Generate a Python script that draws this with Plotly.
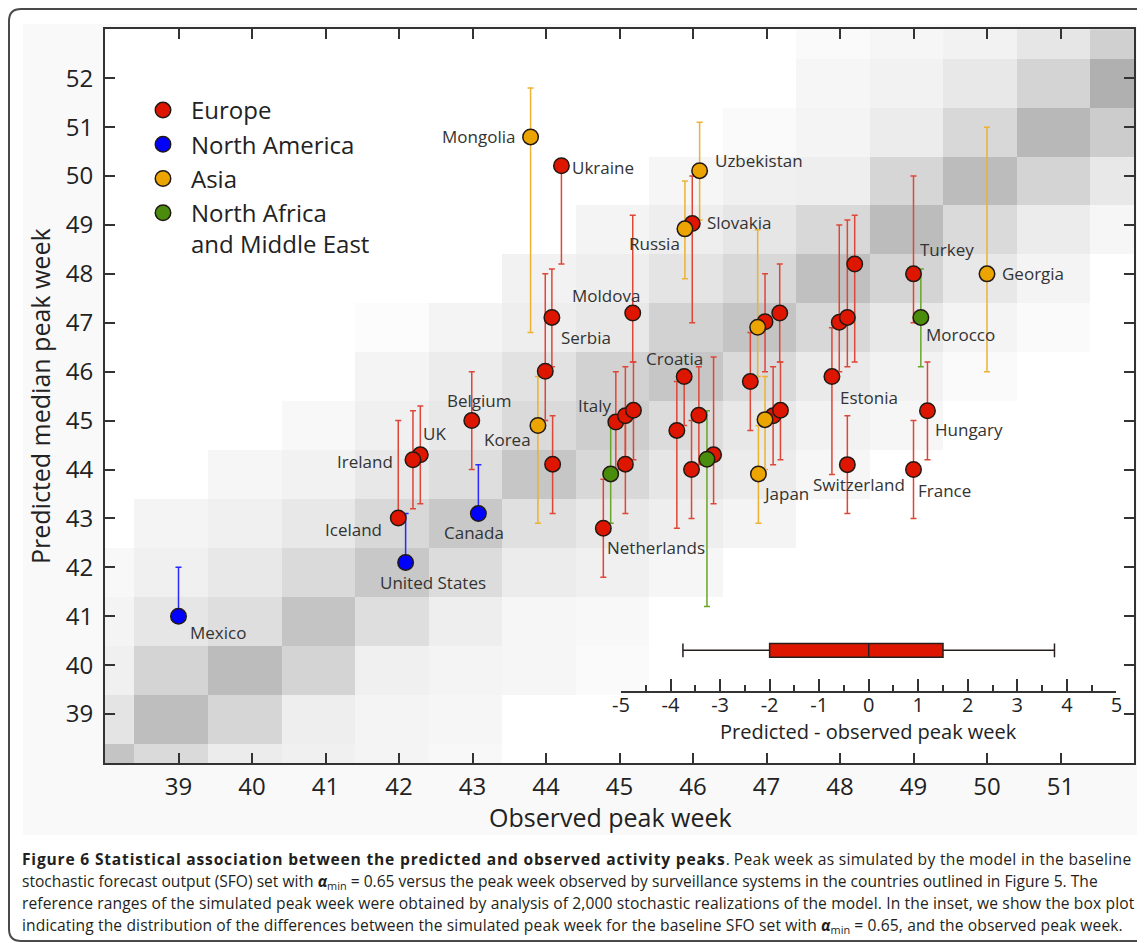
import plotly.graph_objects as go

# the page body adds an 8 px offset; the figure is sized so that page = 1145 x 943
OFF = 8
W, H = 1145 - OFF, 943 - OFF

# ---------------- background: simulated vs observed density (gray levels, 255 = white) -------------
OBS_BINS = [37.9, 38.9, 39.9, 40.9, 41.9, 42.9, 43.9, 44.9, 45.9, 46.9, 47.9, 48.9, 49.9, 50.9, 51.9]
PRED_BINS = [37.9, 38.9, 39.9, 40.9, 41.9, 42.9, 43.9, 44.9, 45.9, 46.9, 47.9, 48.9, 49.9, 50.9, 51.9, 52.9]
GRAY = [
    [196, 218, 236, 240, 244, 248, 255, 255, 255, 255, 255, 255, 255, 255, 255],
    [228, 190, 214, 238, 244, 246, 255, 255, 255, 255, 255, 255, 255, 255, 255],
    [240, 212, 188, 212, 240, 244, 246, 250, 255, 255, 255, 255, 255, 255, 255],
    [244, 230, 222, 196, 222, 238, 246, 248, 255, 255, 255, 255, 255, 255, 255],
    [248, 240, 232, 218, 200, 220, 236, 240, 246, 255, 255, 255, 255, 255, 255],
    [255, 244, 240, 232, 216, 200, 224, 232, 238, 244, 255, 255, 255, 255, 255],
    [255, 255, 246, 242, 232, 222, 198, 216, 230, 236, 246, 255, 255, 255, 255],
    [255, 255, 255, 248, 240, 232, 218, 206, 220, 232, 242, 246, 255, 255, 255],
    [255, 255, 255, 255, 244, 236, 226, 210, 198, 218, 234, 242, 250, 255, 255],
    [255, 255, 255, 255, 252, 244, 238, 232, 210, 196, 216, 232, 244, 250, 255],
    [255, 255, 255, 255, 255, 255, 242, 238, 228, 216, 192, 212, 232, 244, 255],
    [255, 255, 255, 255, 255, 255, 255, 244, 238, 230, 216, 188, 218, 236, 246],
    [255, 255, 255, 255, 255, 255, 255, 255, 246, 240, 238, 214, 188, 212, 232],
    [255, 255, 255, 255, 255, 255, 255, 255, 255, 250, 244, 236, 216, 184, 204],
    [255, 255, 255, 255, 255, 255, 255, 255, 255, 255, 246, 242, 232, 212, 176],
    [255, 255, 255, 255, 255, 255, 255, 255, 255, 255, 250, 246, 242, 230, 208],
]

# ---------------- countries: observed week, predicted median week, reference range -------------
EU_NAMES = ["Ukraine", "Serbia", "", "", "Moldova", "Italy", "", "", "", "Netherlands",
            "Croatia", "", "", "", "", "Slovakia", "", "", "", "", "", "", "", "",
            "Estonia", "Turkey", "Hungary", "France", "Switzerland", "Belgium", "UK", "Ireland", "Iceland"]
EU_OBS = [44.21, 44.08, 43.99, 44.09, 45.18, 44.95, 45.08, 45.19, 45.08, 44.78,
          45.88, 45.78, 46.08, 45.98, 46.28, 45.99, 47.18, 46.98, 46.78, 47.09, 47.19, 48.20, 47.99, 48.10,
          47.89, 49.00, 49.19, 49.00, 48.10, 42.99, 42.29, 42.19, 41.99]
EU_PRED = [50.21, 47.11, 46.01, 44.11, 47.20, 44.97, 45.10, 45.21, 44.11, 42.80,
           45.90, 44.80, 45.11, 44.00, 44.30, 49.03, 47.20, 47.02, 45.80, 45.10, 45.21, 48.20, 47.01, 47.11,
           45.90, 48.00, 45.20, 44.00, 44.10, 45.00, 44.30, 44.20, 43.01]
EU_LOW = [48.2, 46.1, 45.0, 43.1, 46.2, 44.0, 44.1, 44.2, 43.1, 41.8,
          44.9, 42.8, 44.1, 43.0, 43.3, 47.0, 46.2, 46.0, 44.8, 44.1, 44.2, 46.2, 46.0, 46.1,
          43.9, 47.0, 44.2, 43.0, 43.1, 44.0, 43.3, 43.2, 43.0]
EU_HIGH = [50.2, 48.1, 48.0, 45.1, 49.2, 46.0, 46.1, 46.2, 45.1, 43.8,
           45.9, 45.8, 46.1, 45.0, 46.3, 50.0, 48.2, 48.0, 46.8, 46.1, 46.2, 49.2, 49.0, 49.1,
           46.9, 50.0, 46.2, 45.0, 45.1, 46.0, 45.3, 45.2, 45.0]

NA_NAMES = ["Mexico", "United States", "Canada"]
NA_OBS = [39.00, 42.09, 43.08]
NA_PRED = [41.00, 42.10, 43.10]
NA_LOW = [41.0, 42.1, 43.1]
NA_HIGH = [42.0, 43.1, 44.1]

AS_NAMES = ["Mongolia", "Korea", "Uzbekistan", "Russia", "", "", "Japan", "Georgia"]
AS_OBS = [43.79, 43.89, 46.09, 45.89, 46.88, 46.98, 46.89, 50.00]
AS_PRED = [50.80, 44.90, 50.11, 48.92, 46.91, 45.02, 43.91, 48.00]
AS_LOW = [46.8, 42.9, 49.1, 47.9, 45.9, 44.0, 42.9, 46.0]
AS_HIGH = [51.8, 45.9, 51.1, 49.9, 48.9, 45.9, 44.9, 51.0]

ME_NAMES = ["", "", "Morocco"]
ME_OBS = [44.88, 46.19, 49.10]
ME_PRED = [43.91, 44.21, 47.11]
ME_LOW = [42.9, 41.2, 46.1]
ME_HIGH = [44.9, 45.2, 48.1]

X_TICKS = [39, 40, 41, 42, 43, 44, 45, 46, 47, 48, 49, 50, 51]
Y_TICKS = [39, 40, 41, 42, 43, 44, 45, 46, 47, 48, 49, 50, 51, 52]

# ---------------- inset: predicted - observed peak week box plot -------------
DIFF_LOWER = [-3.75]
DIFF_Q1 = [-2.0]
DIFF_MEDIAN = [0.0]
DIFF_Q3 = [1.5]
DIFF_UPPER = [3.75]
DIFF_TICKS = [-5, -4, -3, -2, -1, 0, 1, 2, 3, 4, 5]
DIFF_TICK_TEXT = ["-5", "-4", "-3", "-2", "-1", "0", "1", "2", "3", "4", "5"]

CAPTION_LINES = [
    "<b><span style=\"letter-spacing:0.8px\">Figure 6 Statistical association between the predicted "
    "and observed activity peaks</span></b>. "
    "<span style=\"letter-spacing:0.3px\">Peak week as simulated by the model in the baseline</span>",
    "stochastic forecast output (SFO) set with <b><i>α</i></b><sub>min</sub> = 0.65 versus the peak week "
    "observed by surveillance systems in the countries outlined in Figure 5. The",
    "<span style=\"letter-spacing:0.12px\">reference ranges of the simulated peak week were obtained by "
    "analysis of 2,000 stochastic realizations of the model. In the inset, we show the box plot</span>",
    "<span style=\"letter-spacing:0.12px\">indicating the distribution of the differences between the "
    "simulated peak week for the baseline SFO set with </span><b><i>α</i></b><sub>min</sub>"
    "<span style=\"letter-spacing:0.12px\"> = 0.65, and the observed peak week.</span>",
]

# ---------------- styling -------------
FONT = "Open Sans"
GROUPS = [
    ("Europe", EU_NAMES, EU_OBS, EU_PRED, EU_LOW, EU_HIGH, "rgb(222,22,0)", "rgb(222,70,55)"),
    ("North America", NA_NAMES, NA_OBS, NA_PRED, NA_LOW, NA_HIGH, "rgb(0,0,255)", "rgb(40,40,255)"),
    ("Asia", AS_NAMES, AS_OBS, AS_PRED, AS_LOW, AS_HIGH, "rgb(236,165,0)", "rgb(236,178,50)"),
    ("North Africa<br>and Middle East", ME_NAMES, ME_OBS, ME_PRED, ME_LOW, ME_HIGH,
     "rgb(74,140,12)", "rgb(105,165,40)"),
]

LABEL_STYLE = {
    "Mongolia": ("right", -14, 0), "Ukraine": ("left", 9, -2), "Uzbekistan": ("left", 13, 10),
    "Slovakia": ("left", 13, 1), "Russia": ("right", -3, -15), "Turkey": ("left", 4, 24),
    "Georgia": ("left", 13, 0), "Morocco": ("left", 3, -17), "Moldova": ("center", -27, 18),
    "Serbia": ("left", 7, -20), "Croatia": ("center", -10, 18), "Estonia": ("left", 6, -21),
    "Belgium": ("center", 8, 20), "Korea": ("right", -5, -14), "Italy": ("right", -2, 17),
    "UK": ("left", 1, 21), "Ireland": ("right", -18, -2), "Iceland": ("right", -14, -12),
    "Canada": ("center", -4, -19), "United States": ("left", -28, -20), "Mexico": ("left", 9, -16),
    "Netherlands": ("left", 2, -19), "Japan": ("left", 3, -20), "Switzerland": ("center", 12, -20),
    "France": ("left", 2, -21), "Hungary": ("left", 6, -19),
}


def px_x(px):
    return (px - OFF) / W


def px_y(py):
    return 1 - (py - OFF) / H


fig = go.Figure()

# density background
fig.add_trace(go.Heatmap(
    x=OBS_BINS, y=PRED_BINS, z=[[255 - g for g in row] for row in GRAY],
    zmin=0, zmax=100, colorscale=[[0, "rgb(255,255,255)"], [1, "rgb(155,155,155)"]],
    showscale=False, hoverinfo="skip", xaxis="x", yaxis="y",
))

# error bars first (under every marker)
for name, names, obs, pred, low, high, mcol, ecol in GROUPS:
    fig.add_trace(go.Scatter(
        x=obs, y=pred, mode="markers", marker=dict(size=2, opacity=0),
        error_y=dict(type="data", symmetric=False,
                     array=[max(h - p, 0) for h, p in zip(high, pred)],
                     arrayminus=[max(p - l, 0) for p, l in zip(pred, low)],
                     color=ecol, thickness=1.5, width=3),
        showlegend=False, hoverinfo="skip",
    ))

# markers
for name, names, obs, pred, low, high, mcol, ecol in GROUPS:
    fig.add_trace(go.Scatter(
        x=obs, y=pred, mode="markers", name=name, text=names,
        marker=dict(size=15.5, color=mcol, line=dict(color="rgb(35,25,20)", width=1.5)),
        hovertemplate="%{text}<br>observed %{x}<br>predicted %{y}<extra></extra>",
    ))

# inset box plot
fig.add_trace(go.Box(
    y=[0.5], q1=DIFF_Q1, median=DIFF_MEDIAN, q3=DIFF_Q3,
    lowerfence=DIFF_LOWER, upperfence=DIFF_UPPER, orientation="h",
    fillcolor="rgb(222,22,0)", line=dict(color="rgb(40,30,30)", width=1.5),
    width=0.17, whiskerwidth=1, showlegend=False, xaxis="x2", yaxis="y2",
    hoverinfo="skip",
))

annotations = []
for name, names, obs, pred, low, high, mcol, ecol in GROUPS:
    for n, ox, py in zip(names, obs, pred):
        if not n:
            continue
        anchor, dx, dy = LABEL_STYLE[n]
        annotations.append(dict(
            x=ox, y=py, xref="x", yref="y", text=n, showarrow=False,
            xanchor=anchor, yanchor="middle", xshift=dx, yshift=dy,
            font=dict(family=FONT, size=17, color="#333"),
        ))

# axis titles
annotations.append(dict(x=px_x(610), y=px_y(817), xref="paper", yref="paper", showarrow=False,
                        text="Observed peak week", xanchor="center", yanchor="middle",
                        font=dict(family=FONT, size=25, color="#222")))
annotations.append(dict(x=px_x(40), y=px_y(396), xref="paper", yref="paper", showarrow=False,
                        text="Predicted median peak week", textangle=-90, xanchor="center",
                        yanchor="middle", font=dict(family=FONT, size=25, color="#222")))
annotations.append(dict(x=px_x(868.7), y=px_y(731), xref="paper", yref="paper", showarrow=False,
                        text="Predicted - observed peak week", xanchor="center", yanchor="middle",
                        font=dict(family=FONT, size=20, color="#222")))

# caption
for i, line in enumerate(CAPTION_LINES):
    annotations.append(dict(x=px_x(20), y=px_y(859 + 22 * i), xref="paper", yref="paper",
                            showarrow=False, text=line, xanchor="left", yanchor="middle",
                            font=dict(family=FONT, size=15.6, color="#231f20")))

shapes = [
    dict(type="rect", xref="paper", yref="paper", x0=px_x(23), x1=px_x(1150), y0=px_y(835),
         y1=px_y(24), fillcolor="#f9f9f9", line=dict(width=0), layer="below"),
    dict(type="path", xref="paper", yref="paper", layer="above",
         path=("M {a},{b} L {c},{b} Q {d},{b} {d},{e} L {d},{f} Q {d},{g} {c},{g} L {a},{g}").format(
             a=px_x(1170), b=px_y(941), c=px_x(21), d=px_x(9), e=px_y(929), f=px_y(21), g=px_y(9)),
         line=dict(color="#4a4a4a", width=2)),
]

axis_common = dict(showgrid=False, zeroline=False, showline=True, linecolor="#333", linewidth=2,
                   ticks="inside", ticklen=10, tickwidth=1.5, tickcolor="#333", mirror="ticks",
                   tickfont=dict(family=FONT, size=24, color="#222"))

fig.update_layout(
    width=W, height=H, margin=dict(l=0, r=0, t=0, b=0, autoexpand=False),
    paper_bgcolor="white", plot_bgcolor="rgba(0,0,0,0)",
    font=dict(family=FONT, color="#222"),
    showlegend=True,
    legend=dict(x=px_x(135), y=px_y(88), xanchor="left", yanchor="top", bgcolor="rgba(0,0,0,0)",
                font=dict(family=FONT, size=24, color="#222"), itemwidth=46, valign="top",
                tracegroupgap=0),
    xaxis=dict(domain=[px_x(105), px_x(1134)], range=[38, 52], tickvals=X_TICKS,
               ticklabelstandoff=1, anchor="y", automargin=False, **axis_common),
    yaxis=dict(domain=[px_y(763), px_y(29.3)], range=[38, 53], tickvals=Y_TICKS,
               ticklabelstandoff=5, anchor="x", automargin=False, **axis_common),
    xaxis2=dict(domain=[px_x(621), px_x(1116.4)], range=[-5, 5], tickvals=DIFF_TICKS,
                ticktext=DIFF_TICK_TEXT, anchor="y2", automargin=False,
                showgrid=False, zeroline=False, showline=True, linecolor="#333", linewidth=1.5,
                ticks="inside", ticklen=12, tickwidth=1.5, tickcolor="#333",
                minor=dict(ticks="inside", ticklen=6, tickwidth=1.5, tickcolor="#333", dtick=0.5,
                           tick0=-5, showgrid=False),
                tickfont=dict(family=FONT, size=20, color="#222"), ticklabelstandoff=-4),
    yaxis2=dict(domain=[px_y(690.7), px_y(609.9)], range=[0, 1], visible=False, anchor="x2",
                automargin=False),
    annotations=annotations,
    shapes=shapes,
)

fig.write_html("out.html")
